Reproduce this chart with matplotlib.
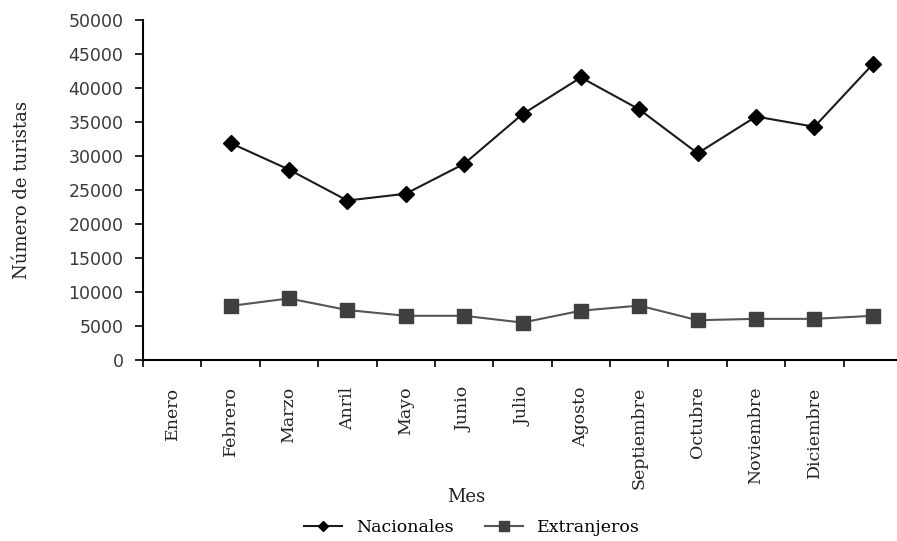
import matplotlib.pyplot as plt
import numpy as np

# Meses (la última categoría del eje no tiene etiqueta)
meses = ['Enero', 'Febrero', 'Marzo', 'Anril', 'Mayo', 'Junio', 'Julio',
         'Agosto', 'Septiembre', 'Octubre', 'Noviembre', 'Diciembre', '']
nacionales = [None, 31900, 28000, 23450, 24450, 28850, 36150,
              41550, 36850, 30400, 35800, 34300, 43500]
extranjeros = [None, 7950, 9050, 7350, 6500, 6500, 5500,
               7250, 8000, 5850, 6050, 6050, 6500]

serif = 'DejaVu Serif'
pos = np.arange(len(meses)) + 0.5
nac = np.array([np.nan if v is None else v for v in nacionales], dtype=float)
ext = np.array([np.nan if v is None else v for v in extranjeros], dtype=float)

fig = plt.figure(figsize=(8.97, 5.41), dpi=100)
ax = fig.add_axes([143 / 897, 1 - 360 / 541, 759 / 897, 340 / 541])

ax.plot(pos, nac, color='#1a1a1a', linewidth=1.5, marker='D', markersize=8,
        markerfacecolor='black', markeredgecolor='black', label='Nacionales')
ax.plot(pos, ext, color='#555555', linewidth=1.5, marker='s', markersize=10,
        markerfacecolor='#3f3f3f', markeredgecolor='#3f3f3f', label='Extranjeros')

ax.set_xlim(0, len(meses))
ax.set_ylim(0, 50000)
ax.set_yticks(np.arange(0, 50001, 5000))
ax.set_xticks(np.arange(0, len(meses) + 1))
ax.set_xticklabels([])
ax.set_xticks(pos, minor=True)
ax.set_xticklabels(meses, minor=True, rotation=90, va='top', ha='center',
                   family=serif, fontsize=12.5, color='#222222')
ax.tick_params(axis='x', which='minor', length=0, pad=19)
ax.tick_params(axis='x', which='major', direction='out', length=5, width=1.2)
ax.tick_params(axis='y', direction='out', length=6, width=1.2, labelsize=12.5,
               labelcolor='#3a3a3a', pad=8)

for s in ['top', 'right']:
    ax.spines[s].set_visible(False)
for s in ['left', 'bottom']:
    ax.spines[s].set_linewidth(1.5)

ax.set_ylabel('Número de turistas', family=serif, fontsize=13, color='#222222')
ax.yaxis.set_label_coords(-0.147, 0.5)
ax.set_xlabel('Mes', family=serif, fontsize=13, color='#222222')
ax.xaxis.set_label_coords(0.4256, -0.376)

fig.legend(loc='center', bbox_to_anchor=(472 / 897, 1 - 528 / 541), ncol=2,
           frameon=False, prop={'family': serif, 'size': 12.5},
           handlelength=2.2, columnspacing=1.8, markerscale=0.7)

fig.savefig('out.png', dpi=100)
